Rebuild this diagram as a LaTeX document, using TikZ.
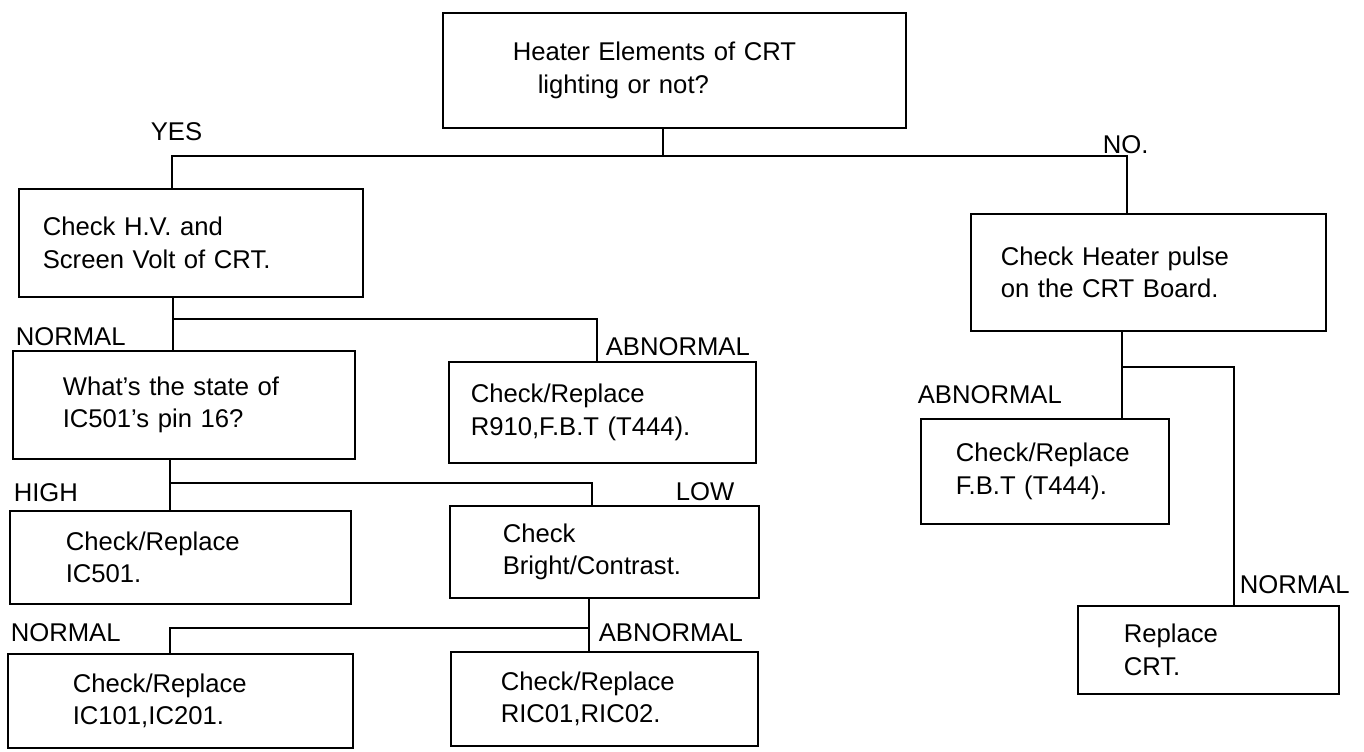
\documentclass[tikz,border=0pt]{standalone}
\usepackage{fontspec}
\setmainfont{Liberation Sans}

\begin{document}
\begin{tikzpicture}[
  x=0.2mm, y=-0.2mm,
  line width=0.9pt,
  every node/.style={font=\fontsize{14.6}{18.5}\selectfont},
  chkbox/.style n args={3}{
    draw, rectangle, anchor=north west, align=left,
    text width=#1, inner xsep=#2, minimum height=#3
  },
  branch/.style={anchor=west, inner sep=0pt}
]
  \path[fill=white] (0,0) rectangle (1364,751);

  \node[chkbox={64.6mm}{14mm}{23mm}] (lit) at (442,12) {Heater Elements of CRT\\\hspace*{5mm}lighting or not?};
  \node[chkbox={59.2mm}{4.8mm}{21.6mm}] (hv) at (18,188) {Check H.V. and\\Screen Volt of CRT.};
  \node[chkbox={59mm}{6mm}{23.4mm}] (pulse) at (970,213) {Check Heater pulse\\on the CRT Board.};
  \node[chkbox={48.4mm}{10mm}{21.6mm}] (pin) at (12,350) {What's the state of\\IC501's pin 16?};
  \node[chkbox={52.6mm}{4.4mm}{20.2mm}] (fbtA) at (448,361) {Check/Replace\\R910,F.B.T (T444).};
  \node[chkbox={35.6mm}{7mm}{21mm}] (fbtB) at (920,418) {Check/Replace\\F.B.T (T444).};
  \node[chkbox={45.8mm}{11.2mm}{18.6mm}] (ic501) at (9,510) {Check/Replace\\IC501.};
  \node[chkbox={40.6mm}{10.6mm}{18.4mm}] (bright) at (449,505) {Check\\Bright/Contrast.};
  \node[chkbox={33.8mm}{9.2mm}{17.6mm}] (crt) at (1077,605) {Replace\\CRT.};
  \node[chkbox={43mm}{13mm}{18.8mm}] (ic101) at (7,653) {Check/Replace\\IC101,IC201.};
  \node[chkbox={41.4mm}{10mm}{18.8mm}] (ric) at (450,651) {Check/Replace\\RIC01,RIC02.};

  \coordinate (top) at (663,156);
  \coordinate (yes) at (172,156);
  \coordinate (no) at (1127,156);
  \draw (lit.south -| top) -- (top);
  \draw (hv.north -| yes) -- (yes) -- (no) -- (pulse.north -| no);

  \coordinate (hvL) at (173,319);
  \coordinate (hvR) at (597,319);
  \draw (hv.south -| hvL) -- (pin.north -| hvL);
  \draw (hvL) -- (hvR) -- (fbtA.north -| hvR);

  \coordinate (pinL) at (170,483);
  \coordinate (pinR) at (592,483);
  \draw (pin.south -| pinL) -- (ic501.north -| pinL);
  \draw (pinL) -- (pinR) -- (bright.north -| pinR);

  \coordinate (brR) at (589,628);
  \coordinate (brL) at (170,628);
  \draw (bright.south -| brR) -- (ric.north -| brR);
  \draw (brR) -- (brL) -- (ic101.north -| brL);

  \coordinate (puL) at (1122,367);
  \coordinate (puR) at (1234,367);
  \draw (pulse.south -| puL) -- (fbtB.north -| puL);
  \draw (puL) -- (puR) -- (crt.north -| puR);

  \node[branch] (lyes) at (150,132) {YES};
  \node[branch] (lno) at (1102,145) {NO.};
  \node[branch] (lnA) at (15,337) {NORMAL};
  \node[branch] (laA) at (605,347) {ABNORMAL};
  \node[branch] (lhigh) at (13,493) {HIGH};
  \node[branch] (llow) at (675,492) {LOW};
  \node[branch] (lnB) at (10,633) {NORMAL};
  \node[branch] (laB) at (598,633) {ABNORMAL};
  \node[branch] (laC) at (917,395) {ABNORMAL};
  \node[branch] (lnC) at (1239,585) {NORMAL};
\end{tikzpicture}
\end{document}
